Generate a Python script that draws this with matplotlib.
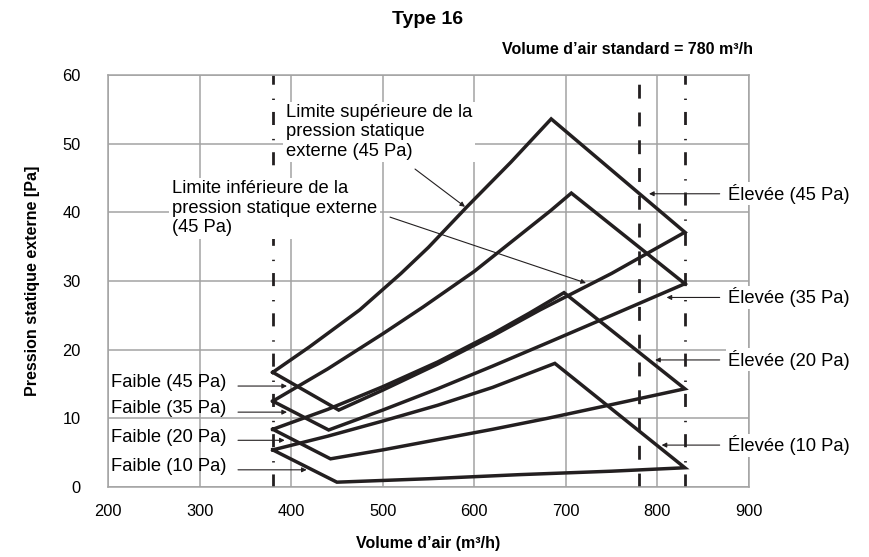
import matplotlib
matplotlib.use('Agg')
import matplotlib.pyplot as plt

plt.rcParams['font.family'] = ['Liberation Sans', 'DejaVu Sans']

# bornes de la plage de fonctionnement (m3/h, Pa)
upper_45_x = [380, 420, 475, 520, 550, 592, 640, 684]
upper_45_y = [16.7, 20.4, 25.8, 31.1, 34.9, 40.8, 47.3, 53.6]
lower_45_x = [452, 500, 560, 620, 672, 750, 830]
lower_45_y = [11.2, 14.1, 17.9, 22.0, 25.8, 31.1, 37.1]

upper_35_x = [380, 440, 500, 544, 600, 650, 683, 706]
upper_35_y = [12.5, 17.2, 22.3, 26.2, 31.4, 36.7, 40.2, 42.8]
lower_35_x = [441, 500, 560, 620, 680, 750, 830]
lower_35_y = [8.3, 11.2, 14.3, 17.6, 21.0, 25.0, 29.6]

upper_20_x = [380, 440, 500, 560, 620, 660, 698]
upper_20_y = [8.4, 11.3, 14.6, 18.2, 22.3, 25.3, 28.3]
lower_20_x = [443, 500, 560, 620, 680, 750, 830]
lower_20_y = [4.1, 5.4, 6.9, 8.4, 10.0, 12.0, 14.3]

upper_10_x = [380, 440, 500, 560, 620, 688]
upper_10_y = [5.4, 7.4, 9.6, 11.9, 14.5, 18.0]
lower_10_x = [450, 550, 650, 750, 830]
lower_10_y = [0.7, 1.2, 1.8, 2.3, 2.8]

limit_low = 380
limit_std = 780
limit_high = 830

x_ticks = [200, 300, 400, 500, 600, 700, 800, 900]
y_ticks = [0, 10, 20, 30, 40, 50, 60]

faible_labels = ['Faible (45 Pa)', 'Faible (35 Pa)', 'Faible (20 Pa)', 'Faible (10 Pa)']
faible_text_y = [15.2, 11.4, 7.2, 3.0]
faible_tip_x = [395.5, 395.5, 393, 417]
faible_tip_y = [14.7, 10.9, 6.8, 2.5]

elevee_labels = ['Élevée (45 Pa)', 'Élevée (35 Pa)', 'Élevée (20 Pa)', 'Élevée (10 Pa)']
elevee_y = [42.7, 27.6, 18.5, 6.1]
elevee_tip_x = [790.8, 810, 797.5, 804.6]

line_col = '#231f20'
grid_col = '#a3a3a3'

fig = plt.figure(figsize=(8.7, 5.57), dpi=100)
ax = fig.add_axes([0.1241, 0.1257, 0.7368, 0.7397])

ax.set_xlim(200, 900)
ax.set_ylim(0, 60)
ax.set_xticks(x_ticks)
ax.set_yticks(y_ticks)
ax.tick_params(length=0, labelsize=11.8)
ax.tick_params(axis='x', pad=12)
ax.tick_params(axis='y', pad=19.5)
ax.grid(True, color=grid_col, lw=1.1)
ax.set_axisbelow(True)
for s in ax.spines.values():
    s.set_color(grid_col)
    s.set_linewidth(1.1)

# lignes verticales
dashdot = (0, (4.7, 4.3, 0.5, 5.0))
ax.axvline(limit_low, color=line_col, lw=2, ls=dashdot, zorder=2)
ax.axvline(limit_high, color=line_col, lw=2, ls=dashdot, zorder=2)
ax.axvline(limit_std, ymax=0.985, color=line_col, lw=2, ls=(0, (5, 5)), zorder=2)

# plages pour chaque réglage
zones = [(upper_45_x, upper_45_y, lower_45_x, lower_45_y),
         (upper_35_x, upper_35_y, lower_35_x, lower_35_y),
         (upper_20_x, upper_20_y, lower_20_x, lower_20_y),
         (upper_10_x, upper_10_y, lower_10_x, lower_10_y)]
for ux, uy, lx, ly in zones:
    px = ux + lx[::-1] + [ux[0]]
    py = uy + ly[::-1] + [uy[0]]
    ax.plot(px, py, color=line_col, lw=2.5, solid_joinstyle='miter', zorder=3)

arrow = dict(arrowstyle='-|>', color=line_col, lw=0.8, mutation_scale=7,
             shrinkA=0, shrinkB=0)

for lab, ty, tx, tyy in zip(faible_labels, faible_text_y, faible_tip_x, faible_tip_y):
    ax.text(203.5, ty, lab, fontsize=13.2, ha='left', va='center', zorder=4)
    ax.annotate('', xy=(tx, tyy), xytext=(342, tyy), arrowprops=arrow, zorder=4)

for lab, ey, tx in zip(elevee_labels, elevee_y, elevee_tip_x):
    ax.text(877, ey, lab, fontsize=13.2, ha='left', va='center', zorder=5,
            bbox=dict(facecolor='white', edgecolor='none', pad=1))
    ax.annotate('', xy=(tx, ey), xytext=(868, ey), arrowprops=arrow, zorder=4)

ax.text(394.4, 51.7, 'Limite supérieure de la\npression statique\nexterne (45 Pa)',
        fontsize=13.2, ha='left', va='center', linespacing=1.17, zorder=5,
        bbox=dict(facecolor='white', edgecolor='none', pad=2))
ax.annotate('', xy=(589.9, 40.8), xytext=(535.3, 46.3), arrowprops=arrow, zorder=4)

ax.text(269.9, 40.6, 'Limite inférieure de la\npression statique externe\n(45 Pa)',
        fontsize=13.2, ha='left', va='center', linespacing=1.17, zorder=5,
        bbox=dict(facecolor='white', edgecolor='none', pad=2))
ax.annotate('', xy=(722, 29.7), xytext=(508, 39.3), arrowprops=arrow, zorder=4)

ax.set_xlabel('Volume d’air (m³/h)', fontsize=11.5, fontweight='bold')
ax.xaxis.set_label_coords(0.5, -0.136)
ax.xaxis.label.set_verticalalignment('center')
ax.set_ylabel('Pression statique externe [Pa]', fontsize=11.5, fontweight='bold')
ax.yaxis.set_label_coords(-0.117, 0.5)
ax.yaxis.label.set_verticalalignment('center')

fig.text(428 / 870, 1 - 20 / 557, 'Type 16', fontsize=14, fontweight='bold',
         ha='center', va='center')
fig.text(753 / 870, 1 - 49 / 557, 'Volume d’air standard = 780 m³/h', fontsize=11.5,
         fontweight='bold', ha='right', va='center')

fig.savefig('out.png', dpi=100)
